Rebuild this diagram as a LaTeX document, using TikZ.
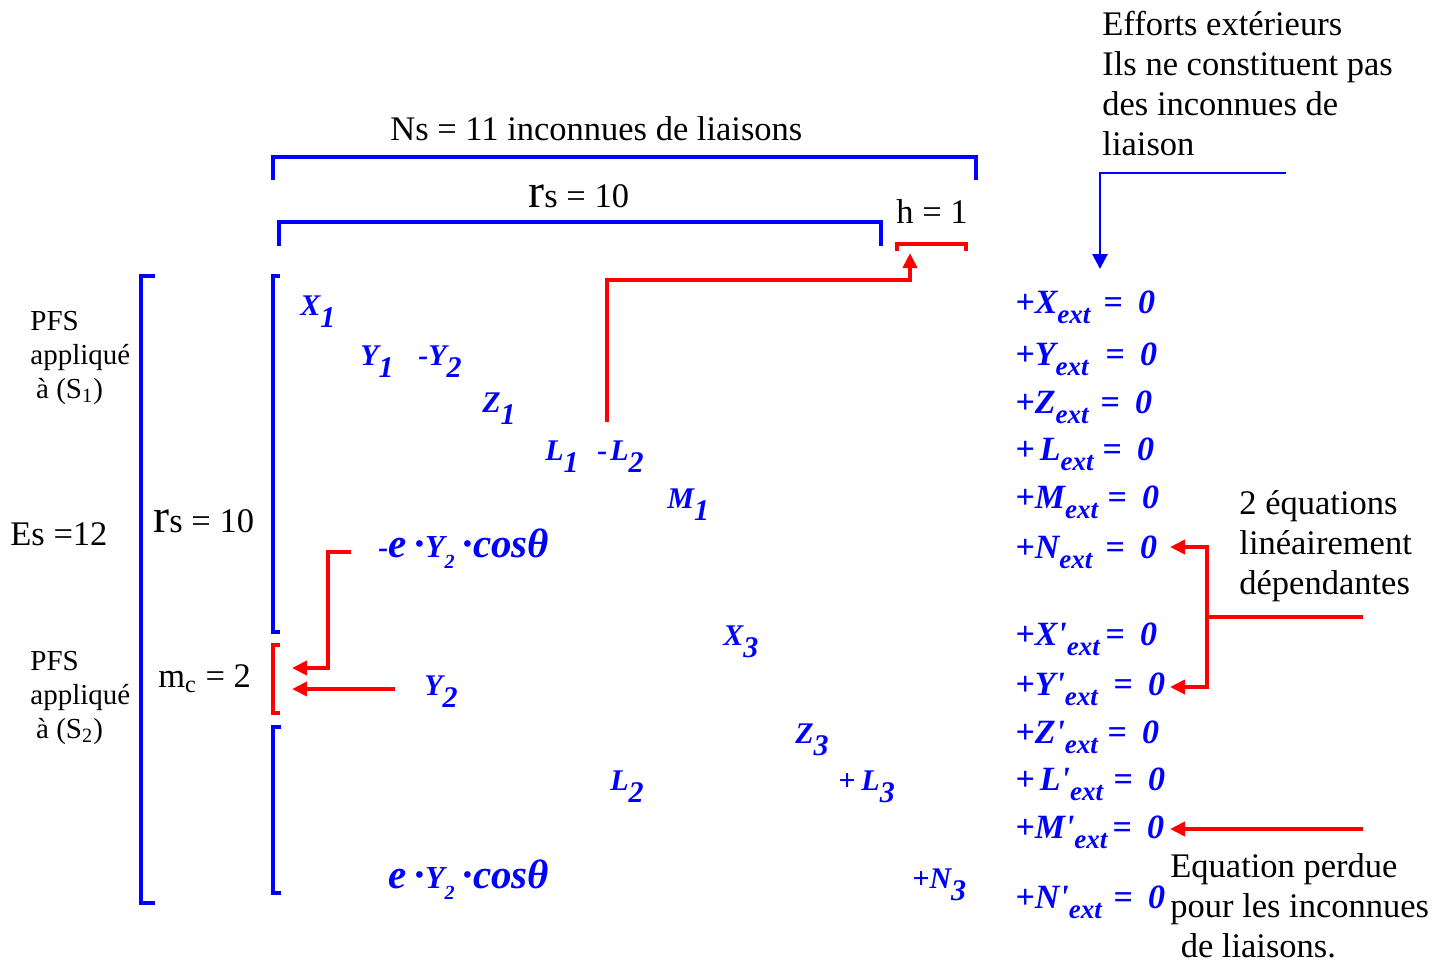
\documentclass[tikz,border=0pt]{standalone}
\usepackage{fontspec}
\setmainfont{Liberation Serif}
\usetikzlibrary{arrows.meta}
\newcommand{\lo}[1]{\raisebox{-0.4em}{#1}}
\newcommand{\ext}[1]{#1\raisebox{-0.3em}{\fontsize{13.5}{16}\selectfont ext}}
\newcommand{\pr}{\textquotesingle}
\newcommand{\bigrr}{{\fontsize{24}{24}\selectfont r}}
\newcommand{\eYcos}{\fontsize{20.5}{22}\selectfont e\hspace{0.2em}·{\fontsize{16}{18}\selectfont Y\raisebox{-0.35em}{\fontsize{10}{12}\selectfont 2}}\hspace{0.2em}·cosθ}
\tikzset{
  brace/.style={draw=blue, line width=1.8pt},
  redbrace/.style={draw=red, line width=1.8pt},
  bluearrow/.style={-{Triangle[length=7.5pt,width=7.5pt]}, blue, line width=1.4pt},
  redarrow/.style={-{Triangle[length=7.5pt,width=7pt]}, red, line width=2.1pt},
  note/.style={font=\fontsize{17.25}{20}\selectfont, inner sep=0pt, align=left, anchor=base west},
  pfs/.style={font=\fontsize{14.5}{17}\selectfont, inner sep=0pt, align=left, anchor=base west},
  unk/.style={text=blue, font=\fontsize{15}{17}\selectfont\bfseries\itshape, inner sep=0pt, anchor=base west},
  eqn/.style={text=blue, font=\fontsize{17}{20}\selectfont\bfseries\itshape, inner sep=0pt, anchor=base west}
}
\begin{document}
\begin{tikzpicture}[x=0.5pt,y=-0.5pt]
  \useasboundingbox (0,0) rectangle (1447,964);
  \draw[brace] (273,180) -- (273,157) -- (976,157) -- (976,180);
  \draw[brace] (279,246) -- (279,222) -- (881,222) -- (881,246);
  \draw[redbrace] (897,251) -- (897,244) -- (966,244) -- (966,251);
  \draw[brace] (155,276) -- (141,276) -- (141,903) -- (155,903);
  \draw[brace] (280,276) -- (273,276) -- (273,632) -- (280,632);
  \draw[redbrace] (280,645) -- (273,645) -- (273,713) -- (280,713);
  \draw[brace] (281,727) -- (273,727) -- (273,893) -- (281,893);

  \node[note] (ns) at (390,140) {Ns = 11 inconnues de liaisons};
  \node[note] (rstop) at (528,207) {\bigrr s = 10};
  \node[note] (h) at (896,223) {h = 1};
  \node[note] (efforts) at (1102,155) {Efforts extérieurs\\Ils ne constituent pas\\des inconnues de\\liaison};
  \node[pfs] (pfsA) at (30,398) {PFS\\appliqué\\\hspace{0.2em}à (S\textsubscript{1})};
  \node[pfs] (pfsB) at (30,738) {PFS\\appliqué\\\hspace{0.2em}à (S\textsubscript{2})};
  \node[note] (es) at (10,545) {Es =12};
  \node[note] (rsleft) at (153,532) {\bigrr s = 10};
  \node[note] (mc) at (158,687) {m\textsubscript{c} = 2};
  \node[note] (dep) at (1239,594) {2 équations\\linéairement\\dépendantes};
  \node[note] (perdue) at (1170,957) {Equation perdue\\pour les inconnues\\\hspace{0.3em}de liaisons.};

  \node[unk] (x1) at (300,315) {X\lo{1}};
  \node[unk] (y1) at (360,365) {Y\lo{1}};
  \node[unk] (my2) at (418,365) {-Y\lo{2}};
  \node[unk] (z1) at (482,412) {Z\lo{1}};
  \node[unk] (l1) at (545,460) {L\lo{1}};
  \node[unk] (ml2) at (597,460) {-\hspace{0.1em}L\lo{2}};
  \node[unk] (m1) at (667,508) {M\lo{1}};
  \node[unk] (meyc) at (378,557) {-\eYcos};
  \node[unk] (x3) at (723,645) {X\lo{3}};
  \node[unk] (y2) at (424,695) {Y\lo{2}};
  \node[unk] (z3) at (795,743) {Z\lo{3}};
  \node[unk] (l2) at (610,790) {L\lo{2}};
  \node[unk] (pl3) at (838,790) {+\hspace{0.2em}L\lo{3}};
  \node[unk] (eyc) at (388,888) {\eYcos};
  \node[unk] (pn3) at (912,888) {+N\lo{3}};

  \foreach \lhs/\yy/\xe [count=\i] in {
      {+\ext{X}}/313/1103, {+\ext{Y}}/365/1105, {+\ext{Z}}/413/1100, {+\hspace{0.15em}\ext{L}}/460/1102,
      {+\ext{M}}/508/1107, {+\ext{N}}/558/1105, {+\ext{X\pr}}/645/1105, {+\ext{Y\pr}}/695/1113,
      {+\ext{Z\pr}}/743/1107, {+\hspace{0.15em}\ext{L\pr}}/790/1113, {+\ext{M\pr}}/838/1112, {+\ext{N\pr}}/908/1113}
  {
    \node[eqn] (lhs\i) at (1015,\yy) {\lhs};
    \node[eqn] (rhs\i) at (\xe,\yy) {=\hspace{0.45em}0};
  }

  \coordinate (effsrc) at (1286,173);
  \coordinate (efftip) at (1100,269);
  \coordinate (hsrc) at (607,422);
  \coordinate (htip) at (910,253);
  \coordinate (meycsrc) at (351,552);
  \coordinate (meyctip) at (292,668);
  \coordinate (y2src) at (395,689);
  \coordinate (y2tip) at (292,689);
  \coordinate (depsrc) at (1363,617);
  \coordinate (depN) at (1170,547);
  \coordinate (depY) at (1170,687);
  \coordinate (lostsrc) at (1363,829);
  \coordinate (losttip) at (1170,829);

  \draw[bluearrow] (effsrc) -- (1100,173) -- (efftip);
  \draw[redarrow] (hsrc) -- (607,280) -- (910,280) -- (htip);
  \draw[redarrow] (meycsrc) -- (328,552) -- (328,668) -- (meyctip);
  \draw[redarrow] (y2src) -- (y2tip);
  \draw[red, line width=2.1pt] (depsrc) -- (1205,617);
  \draw[redarrow] (1207,617) -- (1207,547) -- (depN);
  \draw[redarrow] (1207,617) -- (1207,687) -- (depY);
  \draw[redarrow] (lostsrc) -- (losttip);
\end{tikzpicture}
\end{document}
